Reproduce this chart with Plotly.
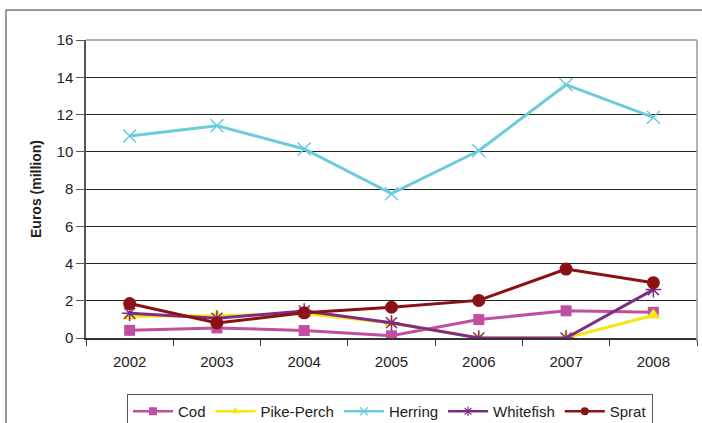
import plotly.graph_objects as go

years = ["2002", "2003", "2004", "2005", "2006", "2007", "2008"]
cod = [0.41, 0.54, 0.40, 0.12, 0.99, 1.46, 1.38]
pike_perch = [1.17, 1.20, 1.31, 0.81, 0.0, 0.0, 1.22]
herring = [10.85, 11.4, 10.15, 7.75, 10.05, 13.6, 11.85]
whitefish = [1.33, 1.06, 1.45, 0.82, 0.0, 0.0, 2.6]
sprat = [1.85, 0.81, 1.35, 1.65, 2.02, 3.7, 2.97]
y_ticks = [0, 2, 4, 6, 8, 10, 12, 14, 16]

series = [
    ("Cod", cod, "#C0509F", "square", 11),
    ("Pike-Perch", pike_perch, "#F5E616", "triangle-up", 13),
    ("Herring", herring, "#6CCCDC", "x-thin-open", 13),
    ("Whitefish", whitefish, "#7E2C85", "asterisk-open", 13),
    ("Sprat", sprat, "#8A1215", "circle", 13),
]

fig = go.Figure()
for name, vals, color, sym, size in series:
    marker = dict(symbol=sym, size=size, color=color)
    if sym.endswith("open"):
        marker["line"] = dict(color=color, width=1.5)
    fig.add_trace(go.Scatter(
        x=years, y=vals, name=name, mode="lines+markers", showlegend=False,
        line=dict(color=color, width=3), marker=marker,
    ))
# legend entries with smaller markers
for name, vals, color, sym, size in series:
    marker = dict(symbol=sym, size=8, color=color)
    if sym.endswith("open"):
        marker["line"] = dict(color=color, width=1.2)
    fig.add_trace(go.Scatter(
        x=[None], y=[None], name=name, mode="lines+markers",
        line=dict(color=color, width=2.5), marker=marker,
    ))

W, H = 702, 423
L, R, T, B = 86, 697, 40, 338
fig.update_layout(
    width=W, height=H,
    margin=dict(l=L, r=W - R, t=T, b=H - B, autoexpand=False),
    paper_bgcolor="white", plot_bgcolor="white",
    font=dict(family="Liberation Sans, Arial, sans-serif", size=15, color="#222"),
    showlegend=True,
    legend=dict(
        orientation="h", x=(127 - L) / (R - L), xanchor="left",
        y=-(394 - B) / (B - T), yanchor="top",
        bordercolor="#555", borderwidth=1, bgcolor="white",
        font=dict(size=15, color="#222"),
        tracegroupgap=0, itemsizing="trace", itemwidth=40,
    ),
    xaxis=dict(
        type="category", showgrid=False, tickson="boundaries", automargin=False,
        ticks="outside", ticklen=6, tickcolor="#333",
        showline=True, linecolor="#333", linewidth=1.5,
        range=[-0.5, 6.5], mirror=False, tickfont=dict(size=15),
        ticklabelstandoff=9,
    ),
    yaxis=dict(
        range=[0, 16], tickvals=y_ticks, showgrid=True, gridcolor="#222", gridwidth=1,
        ticks="outside", ticklen=8, tickcolor="#555", automargin=False,
        showline=True, linecolor="#555", linewidth=1.5, zeroline=False, tickfont=dict(size=15),
        title=dict(text="<b>Euros (million)</b>", font=dict(size=14, color="#222"), standoff=12),
    ),
    shapes=[
        dict(type="line", xref="paper", yref="paper", x0=0, x1=1, y0=1, y1=1,
             line=dict(color="#999", width=1.5)),
        dict(type="line", xref="paper", yref="paper", x0=1, x1=1, y0=-0.015, y1=1,
             line=dict(color="#999", width=1.5)),
        dict(type="rect", xref="paper", yref="paper",
             x0=(6 - L) / (R - L), x1=(710 - L) / (R - L),
             y0=-(430 - B) / (B - T), y1=1 + (T - 10) / (B - T),
             line=dict(color="#333", width=1)),
    ],
)

post = (
    "document.documentElement.style.cssText='margin:0;padding:0;overflow:hidden;height:423px;';"
    "document.body.style.cssText='margin:0;padding:0;overflow:hidden;height:423px;';"
    "var gd=document.getElementById('{plot_id}');"
    "gd.style.position='absolute';gd.style.left='0px';gd.style.top='0px';"
)

fig.write_html("out.html", config={"displayModeBar": False}, post_script=post)
